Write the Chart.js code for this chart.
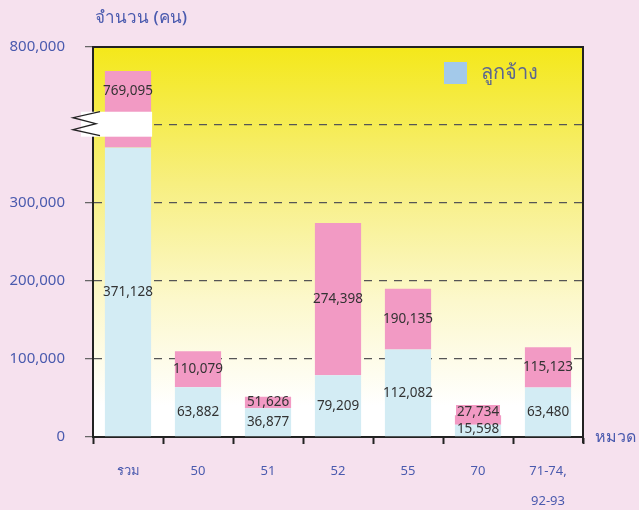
<!DOCTYPE html>
<html>
<head>
<meta charset="utf-8">
<script src="https://cdn.jsdelivr.net/npm/chart.js@4/dist/chart.umd.min.js"></script>
<style>
  html, body { margin: 0; padding: 0; background: #f6e1ee; }
  #wrap { width: 639px; height: 510px; }
</style>
</head>
<body>
<div id="wrap"><canvas id="chart"></canvas></div>
<script>
var categories = ['รวม', '50', '51', '52', '55', '70', ['71-74,', '92-93']];
var totals = [769095, 110079, 51626, 274398, 190135, 27734, 115123];
var employees = [371128, 63882, 36877, 79209, 112082, 15598, 63480];
var yTicks = [0, 100000, 200000, 300000, 400000, 500000];
var yTickLabels = ['0', '100,000', '200,000', '300,000', '', '800,000'];

// broken axis: anything above the break is drawn 300,000 lower
var breakOffset = 300000;
var breakFrom = 385000, breakTo = 417000;

var blue = '#d3ecf4';
var pink = '#f29ac4';
var labelBlue = '#4a5aae';
var font = '"Noto Sans", "DejaVu Sans", sans-serif';

function onAxis(v) {
    return v > breakTo + breakOffset ? v - breakOffset : v;
}

var upper = totals.map(function (t, i) { return onAxis(t) - employees[i]; });

function fmt(n) {
    return n.toLocaleString('en-US');
}

var decor = {
    id: 'decor',
    beforeDraw: function (chart) {
        var ctx = chart.ctx, a = chart.chartArea;
        var g = ctx.createLinearGradient(0, a.top, 0, a.bottom);
        g.addColorStop(0, '#f4e81a');
        g.addColorStop(0.35, '#f7ef80');
        g.addColorStop(0.65, '#fcf8cc');
        g.addColorStop(0.92, '#ffffff');
        ctx.save();
        ctx.fillStyle = g;
        ctx.fillRect(a.left, a.top, a.right - a.left, a.bottom - a.top);
        ctx.restore();
    },
    afterDatasetsDraw: function (chart) {
        var ctx = chart.ctx;
        var y = chart.scales.y;
        var mb = chart.getDatasetMeta(0), mp = chart.getDatasetMeta(1);
        ctx.save();
        ctx.font = '13.5px ' + font;
        ctx.textAlign = 'center';
        ctx.textBaseline = 'middle';
        for (var i = 0; i < categories.length; i++) {
            var b = mb.data[i], p = mp.data[i];
            var bc = (b.y + b.base) / 2;
            var pTop = p.y, pBot = p.base;
            if (totals[i] > breakTo + breakOffset) pBot = y.getPixelForValue(breakTo);
            var pc = (pTop + pBot) / 2;
            var small = bc - pc < 17;
            if (small) {
                bc = Math.min((bc + pc) / 2 + 8.5, b.base - 7);
                pc = bc - 17;
            }
            var tb = fmt(employees[i]), tp = fmt(totals[i]);
            var wp = ctx.measureText(tp).width;
            ctx.fillStyle = '#333';
            ctx.fillText(tb, b.x, bc);
            if (small) {
                ctx.fillStyle = pink;
                ctx.fillRect(Math.round(p.x - wp / 2 - 1), Math.round(pc - 7), Math.round(wp + 2), 14);
            }
            ctx.fillStyle = '#333';
            ctx.fillText(tp, p.x, pc);
        }
        ctx.restore();
    },
    afterDraw: function (chart) {
        var ctx = chart.ctx, a = chart.chartArea;
        var y = chart.scales.y;
        var b0 = chart.getDatasetMeta(0).data[0];
        ctx.save();
        // frame: left, top and right
        ctx.strokeStyle = '#222';
        ctx.lineWidth = 2;
        ctx.setLineDash([]);
        ctx.beginPath();
        ctx.moveTo(a.left, a.bottom);
        ctx.lineTo(a.left, a.top);
        ctx.lineTo(a.right, a.top);
        ctx.lineTo(a.right, a.bottom + 6);
        ctx.stroke();
        // axis break
        var yt = y.getPixelForValue(breakTo), yb = y.getPixelForValue(breakFrom);
        ctx.fillStyle = '#ffffff';
        ctx.fillRect(a.left - 12, yt, b0.x + b0.width / 2 - a.left + 13, yb - yt);
        ctx.strokeStyle = '#222';
        ctx.lineWidth = 1.3;
        ctx.beginPath();
        ctx.moveTo(a.left + 7, yt);
        ctx.lineTo(a.left - 20, yt + 6);
        ctx.lineTo(a.left + 3, yt + 12);
        ctx.lineTo(a.left - 20, yt + 18);
        ctx.lineTo(a.left + 7, yb - 1);
        ctx.stroke();
        // legend
        ctx.fillStyle = '#a3c9ea';
        ctx.fillRect(444, 62, 23, 22);
        ctx.fillStyle = '#5c6690';
        ctx.font = '20px ' + font;
        ctx.textAlign = 'left';
        ctx.textBaseline = 'middle';
        ctx.fillText('ลูกจ้าง', 481, 73);
        // axis titles
        ctx.fillStyle = labelBlue;
        ctx.font = '500 17px ' + font;
        ctx.fillText('จำนวน (คน)', 95, 18);
        ctx.font = '500 16px ' + font;
        ctx.fillText('หมวด', 595, 437);
        ctx.restore();
    }
};

new Chart(document.getElementById('chart'), {
    type: 'bar',
    data: {
        labels: categories,
        datasets: [{
            label: 'ลูกจ้าง',
            data: employees,
            backgroundColor: blue
        }, {
            label: 'รวม',
            data: upper,
            backgroundColor: pink
        }]
    },
    options: {
        responsive: true,
        maintainAspectRatio: false,
        animation: false,
        layout: { padding: { top: 47, right: 56, left: 0, bottom: 0 } },
        datasets: { bar: { categoryPercentage: 1, barPercentage: 0.66 } },
        plugins: {
            legend: { display: false },
            tooltip: { enabled: false }
        },
        scales: {
            x: {
                stacked: true,
                afterFit: function (s) { s.height = 73; },
                grid: {
                    offset: true,
                    drawOnChartArea: false,
                    tickLength: 7,
                    tickColor: '#222',
                    tickWidth: 2
                },
                border: { color: '#222', width: 2 },
                ticks: {
                    color: labelBlue,
                    font: { family: font, size: 13, lineHeight: 2.3 },
                    padding: 12,
                    maxRotation: 0
                }
            },
            y: {
                stacked: true,
                min: 0,
                max: 500000,
                afterFit: function (s) { s.width = 93; },
                afterBuildTicks: function (s) {
                    s.ticks = yTicks.map(function (v) { return { value: v }; });
                },
                grid: {
                    color: function (c) {
                        var v = c.tick && c.tick.value;
                        return (v === 0 || v === 500000) ? 'rgba(0,0,0,0)' : '#555';
                    },
                    lineWidth: 1.3,
                    tickLength: 8,
                    tickColor: '#666',
                    tickBorderDash: [1, 0]
                },
                border: { color: '#222', width: 2, dash: [8, 7] },
                ticks: {
                    color: labelBlue,
                    font: { family: font, size: 15 },
                    padding: 20,
                    callback: function (v, i) { return yTickLabels[i]; }
                }
            }
        }
    },
    plugins: [decor]
});
</script>
</body>
</html>
